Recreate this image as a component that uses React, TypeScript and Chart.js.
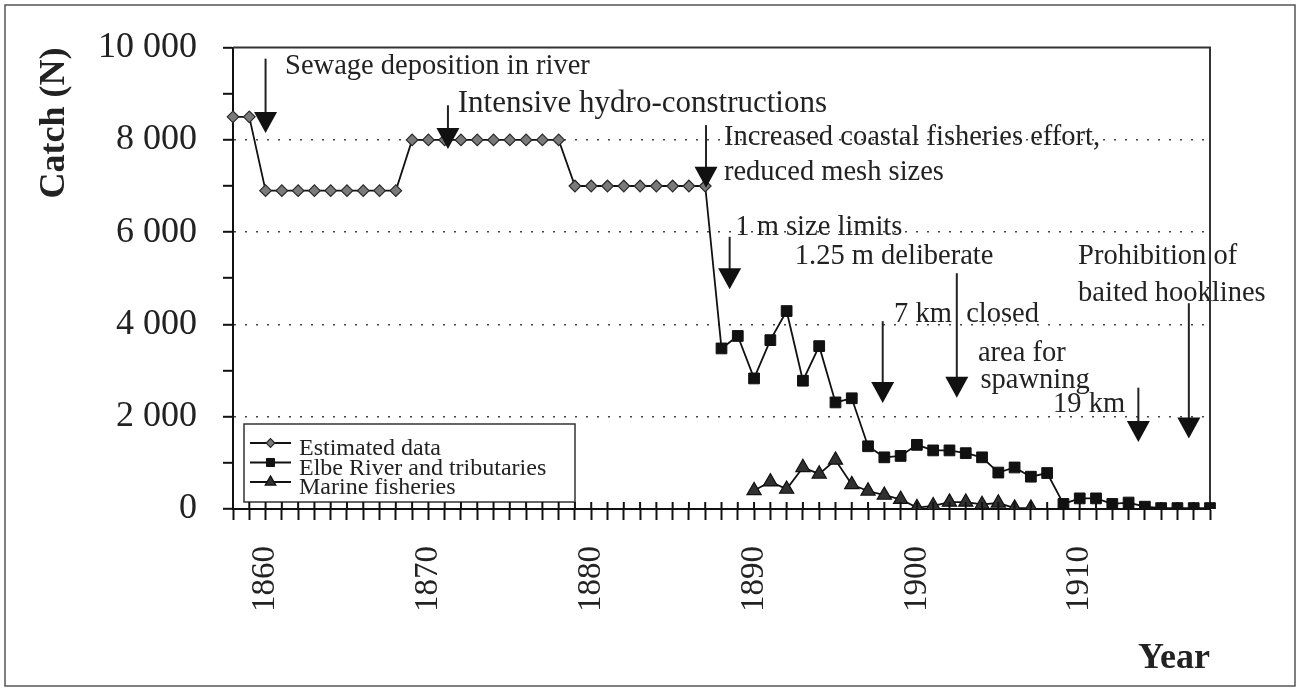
import React, { useEffect, useRef } from 'react';
import { Chart, registerables } from 'chart.js';
import { drawPoint } from 'chart.js/helpers';

Chart.register(...registerables);

// ---------- data ----------
const years: string[] = [];
for (let y = 1858; y <= 1918; y++) years.push(String(y));

const estimatedStart = 1858;
const estimatedValues = [
  8500, 8500,
  6900, 6900, 6900, 6900, 6900, 6900, 6900, 6900, 6900,
  8000, 8000, 8000, 8000, 8000, 8000, 8000, 8000, 8000, 8000,
  7000, 7000, 7000, 7000, 7000, 7000, 7000, 7000, 7000,
];

const elbeStart = 1887;
const elbeValues = [
  7000, 3480, 3750, 2830, 3660, 4290, 2780, 3530, 2310, 2400,
  1360, 1120, 1150, 1390, 1270, 1270, 1210, 1120, 790, 900,
  700, 780, 110, 230, 230, 110, 140, 50, 20, 20, 20, 20,
];

const marineStart = 1890;
const marineValues = [
  400, 590, 430, 900, 760, 1060, 530, 390, 300, 210,
  30, 70, 150, 150, 100, 130, 20, 20,
];

const seriesLabels = ['Estimated data', 'Elbe River and tributaries', 'Marine fisheries'];
const xLabelEvery = 10;
const yLabelEvery = 2000;

// arrows: [year, value at top of shaft, value at tip]
const arrowYears = [1860, 1871.2, 1887.05, 1888.5, 1902.45, 1897.9, 1913.6, 1916.7];
const arrowTops = [9760, 8750, 8320, 5900, 5110, 4070, 2630, 4460];
const arrowTips = [8150, 7800, 6960, 4760, 2410, 2300, 1450, 1530];

// notes: text, year (left edge), value (vertical middle)
const noteTexts = [
  'Sewage deposition in river',
  'Intensive hydro-constructions',
  'Increased coastal fisheries effort,',
  'reduced mesh sizes',
  '1 m size limits',
  '1.25 m deliberate',
  '7 km  closed',
  'area for',
  'spawning',
  '19 km',
  'Prohibition of',
  'baited hooklines',
];
const noteYears = [1861.2, 1871.8, 1888.15, 1888.15, 1888.85, 1892.5, 1898.6, 1903.75, 1903.9, 1908.36, 1909.9, 1909.9];
const noteValues = [9590, 8770, 8060, 7290, 6110, 5470, 4220, 3380, 2780, 2260, 5470, 4680];

// ---------- styles ----------
const FONT = '"Liberation Serif", "Times New Roman", serif';
const INK = '#222222';
const noteFontSizes = [28.5, 31, 28.5, 28.5, 28.5, 28.5, 28.5, 28.5, 28.5, 28.5, 28.5, 28.5];

function spread(start: number, values: number[]) {
  return years.map((y) => {
    const i = Number(y) - start;
    return i >= 0 && i < values.length ? values[i] : null;
  });
}
function idx(year: number) {
  return year - Number(years[0]);
}

const pointStyles: any[] = [
  { pointStyle: 'rectRot', radius: 5.8, backgroundColor: '#7a7a7a', borderColor: '#2a2a2a', borderWidth: 1.2 },
  { pointStyle: 'rect', radius: 7.6, backgroundColor: '#111111', borderColor: '#111111', borderWidth: 1 },
  { pointStyle: 'triangle', radius: 8.2, backgroundColor: '#303030', borderColor: '#111111', borderWidth: 1.2 },
];

const backgroundPlugin = {
  id: 'bg',
  beforeDraw(chart: any) {
    const { ctx, width, height } = chart;
    ctx.save();
    ctx.fillStyle = '#ffffff';
    ctx.fillRect(0, 0, width, height);
    ctx.restore();
  },
};

const framePlugin = {
  id: 'frame',
  afterDraw(chart: any) {
    const { ctx, width, height, chartArea } = chart;
    ctx.save();
    ctx.strokeStyle = '#555555';
    ctx.lineWidth = 1.5;
    ctx.strokeRect(5, 5, width - 10, height - 10);
    ctx.strokeStyle = '#333333';
    ctx.lineWidth = 2;
    ctx.beginPath();
    ctx.moveTo(chartArea.left, chartArea.top);
    ctx.lineTo(chartArea.right, chartArea.top);
    ctx.lineTo(chartArea.right, chartArea.bottom);
    ctx.stroke();
    // inner half of the x tick marks (ticks cross the axis)
    const xs = chart.scales.x;
    ctx.strokeStyle = '#111111';
    ctx.lineWidth = 2;
    ctx.beginPath();
    for (let i = 0; i < years.length; i++) {
      const x = xs.getPixelForValue(i);
      ctx.moveTo(x, chartArea.bottom);
      ctx.lineTo(x, chartArea.bottom - 7);
    }
    ctx.stroke();
    ctx.restore();
  },
};

const annotationPlugin = {
  id: 'notes',
  afterDatasetsDraw(chart: any) {
    const { ctx } = chart;
    const xs = chart.scales.x;
    const ys = chart.scales.y;
    ctx.save();
    ctx.strokeStyle = INK;
    ctx.fillStyle = '#111111';
    ctx.lineWidth = 2;
    for (let i = 0; i < arrowYears.length; i++) {
      const x = xs.getPixelForValue(idx(arrowYears[i]));
      const yTop = ys.getPixelForValue(arrowTops[i]);
      const yTip = ys.getPixelForValue(arrowTips[i]);
      const headH = 21;
      const headW = 11.5;
      ctx.beginPath();
      ctx.moveTo(x, yTop);
      ctx.lineTo(x, yTip - headH + 1);
      ctx.stroke();
      ctx.beginPath();
      ctx.moveTo(x - headW, yTip - headH);
      ctx.lineTo(x + headW, yTip - headH);
      ctx.lineTo(x, yTip);
      ctx.closePath();
      ctx.fill();
    }
    ctx.fillStyle = INK;
    ctx.textAlign = 'left';
    ctx.textBaseline = 'middle';
    for (let i = 0; i < noteTexts.length; i++) {
      const x = xs.getPixelForValue(idx(noteYears[i]));
      const y = ys.getPixelForValue(noteValues[i]);
      ctx.font = `${noteFontSizes[i]}px ${FONT}`;
      ctx.fillText(noteTexts[i], x, y);
    }
    ctx.restore();
  },
};

const legendPlugin = {
  id: 'boxLegend',
  afterDatasetsDraw(chart: any) {
    const { ctx, chartArea } = chart;
    const left = chartArea.left + 11;
    const top = chartArea.bottom - 85;
    const w = 331;
    const h = 78;
    ctx.save();
    ctx.fillStyle = '#ffffff';
    ctx.fillRect(left, top, w, h);
    ctx.strokeStyle = '#333333';
    ctx.lineWidth = 1.5;
    ctx.strokeRect(left, top, w, h);
    ctx.font = `24px ${FONT}`;
    ctx.textAlign = 'left';
    ctx.textBaseline = 'alphabetic';
    chart.data.datasets.forEach((ds: any, i: number) => {
      const cy = top + 19 + i * 19.5;
      ctx.strokeStyle = '#111111';
      ctx.lineWidth = 1.8;
      ctx.beginPath();
      ctx.moveTo(left + 6, cy);
      ctx.lineTo(left + 47, cy);
      ctx.stroke();
      const ps = pointStyles[i];
      ctx.fillStyle = ps.backgroundColor;
      ctx.strokeStyle = ps.borderColor;
      ctx.lineWidth = ps.borderWidth;
      drawPoint(ctx, { pointStyle: ps.pointStyle, radius: ps.radius * 0.75, rotation: 0, borderWidth: ps.borderWidth }, left + 26.5, cy);
      ctx.fillStyle = INK;
      ctx.fillText(ds.label, left + 55, cy + 12);
    });
    ctx.restore();
  },
};

function makeDataset(i: number, data: (number | null)[], extra: any = {}) {
  const ps = pointStyles[i];
  return {
    label: seriesLabels[i],
    data,
    borderColor: '#111111',
    borderWidth: 1.8,
    backgroundColor: ps.backgroundColor,
    pointStyle: ps.pointStyle,
    pointRadius: ps.radius,
    pointBackgroundColor: ps.backgroundColor,
    pointBorderColor: ps.borderColor,
    pointBorderWidth: ps.borderWidth,
    pointHoverRadius: ps.radius,
    spanGaps: false,
    tension: 0,
    ...extra,
  };
}

export default function App() {
  const ref = useRef<HTMLCanvasElement | null>(null);

  useEffect(() => {
    document.body.style.margin = '0';
    const canvas = ref.current;
    if (!canvas) return;
    const elbeData = spread(elbeStart, elbeValues);
    const chart = new Chart(canvas, {
      type: 'line',
      data: {
        labels: years,
        datasets: [
          makeDataset(0, spread(estimatedStart, estimatedValues), { order: 0 }),
          makeDataset(1, elbeData, {
            order: 1,
            pointRadius: (c: any) => (years[c.dataIndex] === String(elbeStart) ? 0 : pointStyles[1].radius),
          }),
          makeDataset(2, spread(marineStart, marineValues), { order: 2 }),
        ],
      },
      options: {
        responsive: false,
        animation: false,
        devicePixelRatio: 1,
        layout: { padding: { top: 45, right: 90, bottom: 0, left: 0 } },
        plugins: {
          legend: { display: false },
          tooltip: { enabled: false },
        },
        scales: {
          x: {
            type: 'category',
            offset: false,
            grid: {
              offset: false,
              drawOnChartArea: false,
              drawTicks: true,
              tickLength: 11,
              tickColor: '#111111',
              tickWidth: 2,
            },
            border: { display: true, color: '#111111', width: 2 },
            ticks: {
              autoSkip: false,
              minRotation: 90,
              maxRotation: 90,
              padding: 26,
              color: INK,
              font: { family: FONT, size: 33 },
              callback: (_v: any, i: number) => (Number(years[i]) % xLabelEvery === 0 ? years[i] : ''),
            },
            title: {
              display: true,
              text: 'Year',
              align: 'end',
              color: INK,
              font: { family: FONT, size: 36, weight: 'bold' },
              padding: { top: 0, bottom: 11 },
            },
            afterFit: (s: any) => {
              s.height = 182;
            },
          },
          y: {
            min: 0,
            max: 10000,
            grid: {
              color: (c: any) => {
                const v = c.tick ? c.tick.value : 0;
                return v % yLabelEvery === 0 && v > 0 && v < 10000 ? '#444444' : 'rgba(0,0,0,0)';
              },
              lineWidth: 1.6,
              drawTicks: true,
              tickLength: 10,
              tickColor: '#111111',
              tickWidth: 2,
              tickBorderDash: [],
            },
            border: { display: true, color: '#111111', width: 2, dash: [2, 9] },
            ticks: {
              stepSize: 1000,
              autoSkip: false,
              padding: 26,
              color: INK,
              font: { family: FONT, size: 36 },
              callback: (v: any) => {
                const n = Number(v);
                if (n % yLabelEvery !== 0) return '';
                if (n === 0) return '0';
                return `${Math.round(n / 1000)} 000`;
              },
            },
            title: {
              display: true,
              text: 'Catch (N)',
              align: 'end',
              color: INK,
              font: { family: FONT, size: 36, weight: 'bold' },
              padding: { top: 33, bottom: 0 },
            },
            afterFit: (s: any) => {
              s.width = 233;
            },
          },
        },
      } as any,
      plugins: [backgroundPlugin, annotationPlugin, legendPlugin, framePlugin],
    });
    return () => chart.destroy();
  }, []);

  return (
    <div style={{ width: 1300, height: 691 }}>
      <canvas ref={ref} width={1300} height={691} style={{ display: 'block' }} />
    </div>
  );
}
